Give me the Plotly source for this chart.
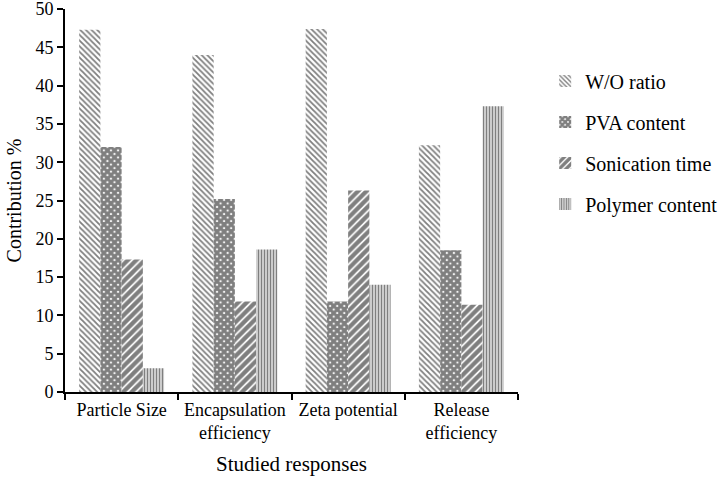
import plotly.graph_objects as go

categories = ["Particle Size", "Encapsulation<br>efficiency", "Zeta potential", "Release<br>efficiency"]
series_names = ["W/O ratio", "PVA content", "Sonication time", "Polymer content"]
wo_ratio = [47.3, 44.0, 47.4, 32.2]
pva_content = [32.0, 25.2, 11.8, 18.5]
sonication_time = [17.3, 11.8, 26.3, 11.4]
polymer_content = [3.1, 18.6, 14.0, 37.3]
y_ticks = [0, 5, 10, 15, 20, 25, 30, 35, 40, 45, 50]

series = [wo_ratio, pva_content, sonication_time, polymer_content]
patterns = [
    dict(shape="\\", fgcolor="black", bgcolor="white", size=4, solidity=0.45),
    dict(shape="x", fgcolor="black", bgcolor="white", size=5, solidity=0.85),
    dict(shape="/", fgcolor="black", bgcolor="white", size=6, solidity=0.7),
    dict(shape="|", fgcolor="black", bgcolor="white", size=3, solidity=0.6),
]

fig = go.Figure()
for i, (name, vals, pat) in enumerate(zip(series_names, series, patterns)):
    fig.add_trace(go.Bar(
        x=categories, y=vals, name=name, legendgroup=f"g{i}",
        marker=dict(color="white", pattern=pat, line=dict(width=0)),
    ))

font = "Times New Roman, Liberation Serif, serif"
fig.update_layout(
    width=724, height=480,
    margin=dict(l=65, r=206, t=9, b=88, autoexpand=False),
    plot_bgcolor="white", paper_bgcolor="white",
    barmode="group", bargap=0.25, bargroupgap=0,
    font=dict(family=font, size=18, color="black"),
    showlegend=True,
    legend=dict(x=1.06, y=0.863, xanchor="left", yanchor="top",
                font=dict(family=font, size=20, color="black"),
                tracegroupgap=12, itemwidth=30),
    xaxis=dict(showline=True, linecolor="black", linewidth=2, ticks="outside",
               tickson="boundaries", ticklen=6, tickcolor="black", tickwidth=2,
               automargin=False,
               title=dict(text="Studied responses", font=dict(size=21), standoff=14),
               tickfont=dict(size=18)),
    yaxis=dict(range=[0, 50], tickvals=y_ticks, showline=True,
               linecolor="black", automargin=False, ticklabeloverflow="allow",
               linewidth=2, ticks="outside", ticklen=6, tickcolor="black", tickwidth=2,
               showgrid=False, zeroline=False,
               title=dict(text="Contribution %", font=dict(size=20), standoff=8),
               tickfont=dict(size=18)),
)

fig.write_html("out.html", config={"displayModeBar": False},
               post_script="document.body.style.margin='0';")
